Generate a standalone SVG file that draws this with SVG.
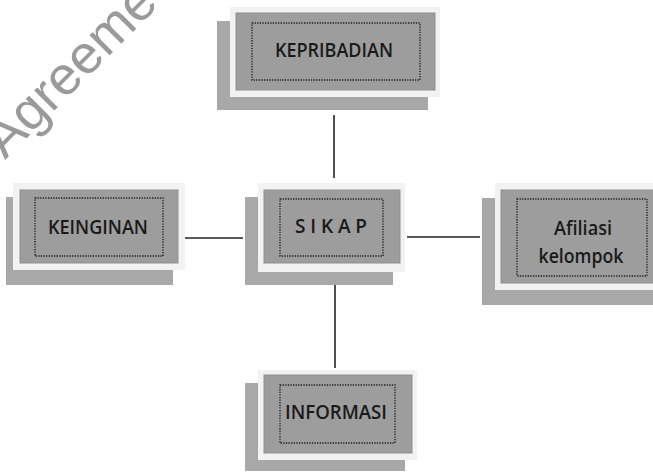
<svg xmlns="http://www.w3.org/2000/svg" width="653" height="473" viewBox="0 0 653 473">
  <style>
    .shadow { fill: #a8a8a8; }
    .frame { fill: #f2f2f2; }
    .box { fill: #9d9d9d; stroke: #8f8f8f; stroke-width: 1; }
    .dots { fill: none; stroke: #1e1e1e; stroke-width: 1.3; stroke-dasharray: 1.3 1.3; }
    .label { font-family: "Open Sans", "Liberation Sans", sans-serif; font-weight: 600; font-size: 19px; fill: #1a1a1a; text-anchor: middle; }
    .wire { stroke: #222; stroke-width: 1.6; fill: none; }
    .mark { font-family: "Liberation Sans", Arial, sans-serif; font-size: 54px; fill: #9a9a9a; }
  </style>
  <rect width="653" height="473" fill="#ffffff"/>

  <!-- background watermark -->
  <text class="mark" transform="translate(5,160) rotate(-45)">Agreeme</text>

  <!-- connectors -->
  <g id="connectors">
    <line class="wire" x1="334" y1="115" x2="334" y2="178"/>
    <line class="wire" x1="185" y1="238" x2="243" y2="238"/>
    <line class="wire" x1="407" y1="237" x2="480" y2="237"/>
    <line class="wire" x1="335" y1="285" x2="335" y2="368"/>
  </g>

  <g id="kepribadian">
    <rect class="shadow" x="217" y="21" width="211" height="89"/>
    <rect class="frame" x="230" y="7" width="210" height="90"/>
    <rect class="box" x="236" y="13" width="199" height="77"/>
    <rect class="dots" x="252" y="23" width="168" height="57"/>
    <text class="label" x="334" y="57" textLength="118" lengthAdjust="spacingAndGlyphs">KEPRIBADIAN</text>
  </g>

  <g id="keinginan">
    <rect class="shadow" x="6" y="197" width="167" height="88"/>
    <rect class="frame" x="13" y="183" width="172" height="87"/>
    <rect class="box" x="20" y="190" width="158" height="73"/>
    <rect class="dots" x="35" y="198" width="128" height="58"/>
    <text class="label" x="98" y="234" textLength="100" lengthAdjust="spacingAndGlyphs">KEINGINAN</text>
  </g>

  <g id="sikap">
    <rect class="shadow" x="245" y="197" width="148" height="88"/>
    <rect class="frame" x="258" y="183" width="147" height="89"/>
    <rect class="box" x="264" y="190" width="136" height="73"/>
    <rect class="dots" x="280" y="199" width="103" height="57"/>
    <text class="label" x="331" y="233" textLength="72" lengthAdjust="spacing">S I K A P</text>
  </g>

  <g id="afiliasi">
    <rect class="shadow" x="482" y="198" width="180" height="107"/>
    <rect class="frame" x="495" y="183" width="165" height="107"/>
    <rect class="box" x="501" y="190" width="160" height="93"/>
    <rect class="dots" x="517" y="199" width="130" height="77"/>
    <text class="label" x="583" y="235" textLength="58" lengthAdjust="spacingAndGlyphs">Afiliasi</text>
    <text class="label" x="581" y="263" textLength="85" lengthAdjust="spacingAndGlyphs">kelompok</text>
  </g>

  <g id="informasi">
    <rect class="shadow" x="245" y="383" width="160" height="88"/>
    <rect class="frame" x="258" y="370" width="159" height="90"/>
    <rect class="box" x="264" y="375" width="148" height="78"/>
    <rect class="dots" x="280" y="385" width="115" height="58"/>
    <text class="label" x="336" y="419" textLength="102" lengthAdjust="spacingAndGlyphs">INFORMASI</text>
  </g>
</svg>
